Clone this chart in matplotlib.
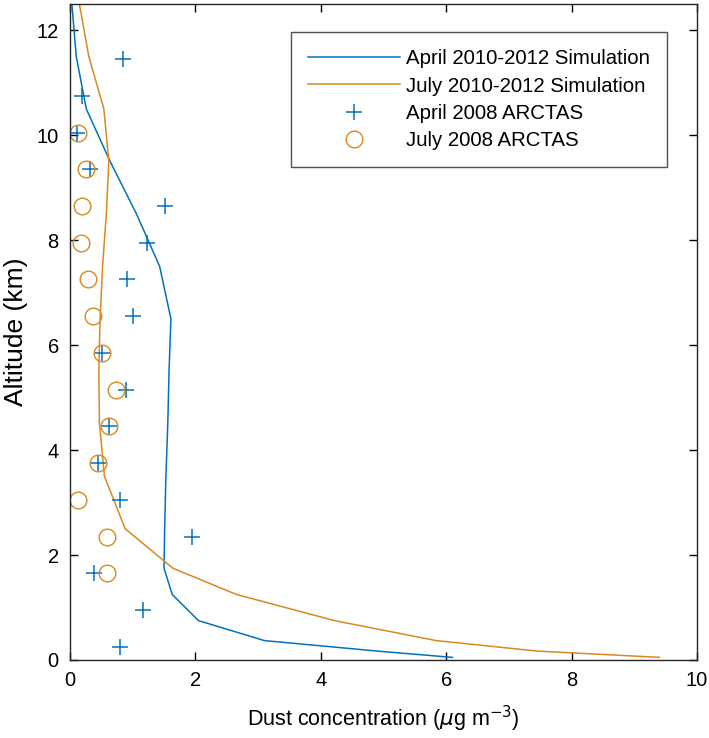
import matplotlib
matplotlib.use("Agg")
import matplotlib.pyplot as plt

plt.rcParams['font.family'] = ['Liberation Sans', 'DejaVu Sans']

# Simulation model levels (km)
sim_alt = [0.05, 0.17, 0.37, 0.75, 1.25, 1.75, 2.5, 3.5, 4.5, 5.5, 6.5, 7.5, 8.5, 9.5, 10.5, 11.5, 12.5]
april_sim = [6.1, 4.9, 3.1, 2.05, 1.63, 1.50, 1.51, 1.53, 1.56, 1.58, 1.61, 1.43, 1.06, 0.64, 0.26, 0.10, 0.03]
july_sim = [9.4, 7.45, 5.84, 4.22, 2.65, 1.64, 0.88, 0.55, 0.47, 0.46, 0.48, 0.52, 0.58, 0.62, 0.54, 0.30, 0.15]

# ARCTAS observations
april_obs_alt = [0.25, 0.95, 1.65, 2.35, 3.05, 3.75, 4.45, 5.15, 5.85, 6.55, 7.25, 7.95, 8.65, 9.35, 10.05, 10.75, 11.45]
april_obs = [0.79, 1.17, 0.39, 1.95, 0.80, 0.44, 0.63, 0.90, 0.51, 1.01, 0.91, 1.23, 1.52, 0.32, 0.11, 0.19, 0.84]

july_obs_alt = [1.65, 2.35, 3.05, 3.75, 4.45, 5.15, 5.85, 6.55, 7.25, 7.95, 8.65, 9.35, 10.05]
july_obs = [0.59, 0.59, 0.12, 0.44, 0.63, 0.74, 0.51, 0.36, 0.28, 0.17, 0.19, 0.25, 0.12]

blue = '#0072BD'
orange = '#D9891F'

fig = plt.figure(figsize=(7.09, 7.38), dpi=100)
ax = fig.add_axes([0.0987, 0.1057, 0.8843, 0.889])

ax.plot(april_sim, sim_alt, color=blue, lw=1.1, label='April 2010-2012 Simulation')
ax.plot(july_sim, sim_alt, color=orange, lw=1.1, label='July 2010-2012 Simulation')
ax.plot(april_obs, april_obs_alt, ls='none', marker='+', ms=12, mew=1.1, color=blue,
        label='April 2008 ARCTAS')
ax.plot(july_obs, july_obs_alt, ls='none', marker='o', ms=12, mew=1.0, mfc='none',
        mec=orange, label='July 2008 ARCTAS')

ax.set_xlim(0, 10)
ax.set_ylim(0, 12.5)
ax.set_xticks([0, 2, 4, 6, 8, 10])
ax.set_yticks([0, 2, 4, 6, 8, 10, 12])
ax.tick_params(direction='in', top=True, right=True, length=6, width=1, labelsize=14.5, pad=8)
for s in ax.spines.values():
    s.set_linewidth(1.0)
    s.set_color('#262626')

ax.set_xlabel('Dust concentration ($\\mu$g m$^{-3}$)', fontsize=15.5, labelpad=10)
ax.set_ylabel('Altitude (km)', fontsize=19, labelpad=6)

leg = ax.legend(loc='upper right', bbox_to_anchor=(0.953, 0.957), fontsize=14.7,
                frameon=True, fancybox=False, edgecolor='#262626', handlelength=4.5,
                borderpad=0.85, labelspacing=0.4, handletextpad=0.3, borderaxespad=0)
leg.get_frame().set_linewidth(1.0)

fig.savefig('out.png', dpi=100)
